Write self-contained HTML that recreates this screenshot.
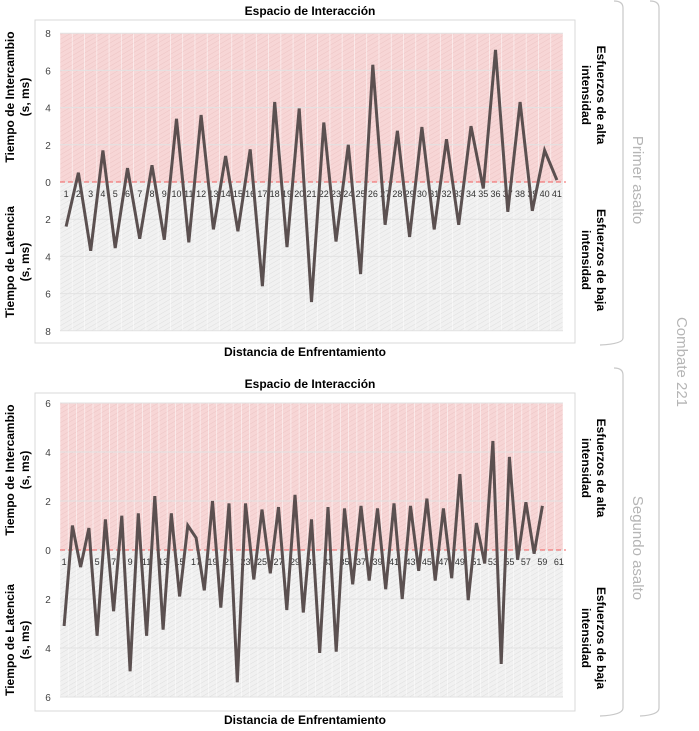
<!DOCTYPE html>
<html><head><meta charset="utf-8"><style>
body{margin:0;background:#fff;font-family:"Liberation Sans",sans-serif;}
svg{display:block}
</style></head><body>
<svg id="s" width="699" height="731" xmlns="http://www.w3.org/2000/svg">
<defs>
<pattern id="hp" width="4" height="4" patternUnits="userSpaceOnUse" patternTransform="rotate(60)"><rect width="4" height="4" fill="#f7d6d6"/><line x1="0" y1="0" x2="0" y2="4" stroke="#ecc4c4" stroke-width="1"/></pattern>
<pattern id="hg" width="4" height="4" patternUnits="userSpaceOnUse" patternTransform="rotate(60)"><rect width="4" height="4" fill="#f1f1f1"/><line x1="0" y1="0" x2="0" y2="4" stroke="#dedede" stroke-width="1"/></pattern>
</defs>
<g id="brackets" fill="none" stroke="#c8c8c8" stroke-width="1.2">
<path d="M614,1 Q623,1 623,8 L623,338 Q623,344 600,345"/>
<path d="M614,368 Q623,368 623,375 L623,708 Q623,715 600,716"/>
<path d="M650,1 Q659,1 659,8 L659,708 Q659,715 640,716"/>
</g>
<text x="633" y="180" transform="rotate(90 633 180)" text-anchor="middle" font-size="15" fill="#b5b5b5">Primer asalto</text>
<text x="633" y="548" transform="rotate(90 633 548)" text-anchor="middle" font-size="15" fill="#b5b5b5">Segundo asalto</text>
<text x="677" y="362" transform="rotate(90 677 362)" text-anchor="middle" font-size="15" fill="#b5b5b5">Combate 221</text>
</svg>
<script>
const top_categories = Array.from({length:41},(_,i)=>String(i+1));
const top_values = [-2.4,0.5,-3.7,1.7,-3.55,0.75,-3.05,0.9,-3.1,3.4,-3.25,3.6,-2.55,1.4,-2.65,1.75,-5.6,4.3,-3.5,3.95,-6.45,3.2,-3.2,2.0,-4.95,6.3,-2.3,2.75,-2.95,2.95,-2.55,2.3,-2.3,3.0,-0.35,7.1,-1.6,4.3,-1.55,1.7,0.1];
const bot_categories = Array.from({length:61},(_,i)=>String(i+1));
const bot_values = [-3.1,1.0,-0.7,0.9,-3.5,1.25,-2.5,1.4,-4.95,1.5,-3.5,2.2,-3.25,1.5,-1.9,1.0,0.5,-1.65,2.0,-2.35,1.9,-5.4,1.9,-1.2,1.65,-0.95,1.75,-2.45,2.25,-2.55,1.25,-4.2,1.75,-4.15,1.7,-1.4,1.8,-1.25,1.7,-1.6,1.9,-2.0,1.8,-0.85,2.1,-1.25,1.7,-1.15,3.1,-2.05,1.1,-0.55,4.45,-4.65,3.8,-0.4,1.95,-0.15,1.8];
const NS="http://www.w3.org/2000/svg";
const svg=document.getElementById('s');
function mk(tag,attrs,parent,text){const e=document.createElementNS(NS,tag);for(const k in attrs)e.setAttribute(k,attrs[k]);if(text!==undefined)e.textContent=text;(parent||svg).appendChild(e);return e;}
function chart(c){
  const g=mk('g',{});
  
  
  const box=mk('rect',{x:35,y:c.boxTop,width:540,height:c.boxH,fill:'#fff',stroke:'#d9d9d9'},g);
  
  
  const x0=60,x1=563,n=c.cats.length,bw=(x1-x0)/n;
  const yS=v=>c.zeroY-v*c.unit;
  const xS=i=>x0+bw*(i+0.5);
  const top=yS(c.max),bot=yS(-c.max);
  const hi=mk('rect',{x:x0,y:top,width:x1-x0,height:c.zeroY-top,fill:'url(#hp)'},g);
  
  
  const lo=mk('rect',{x:x0,y:c.zeroY,width:x1-x0,height:bot-c.zeroY,fill:'url(#hg)'},g);
  
  
  for(let i=0;i<=n;i++){const l=mk('line',{x1:x0+bw*i,x2:x0+bw*i,y1:top,y2:bot,stroke:'#fff','stroke-opacity':0.6,'stroke-width':0.8},g);
    
    }
  for(let v=-c.max;v<=c.max;v+=2){const y=yS(v);
    const l=mk('line',{x1:x0,x2:x1,y1:y,y2:y,stroke:'#e2e2e2','stroke-width':1},g);
    
    
    const t=mk('text',{x:48,y:y+4,'text-anchor':'middle','font-size':10,fill:'#444'},g,String(Math.abs(v)));
    
    }
  const zl=mk('line',{x1:x0,x2:566,y1:c.zeroY,y2:c.zeroY,stroke:'#f06060','stroke-width':1,'stroke-dasharray':'5,3'},g);
  
  
  c.cats.forEach((cat,i)=>{ if(i%c.step) return;
    const t=mk('text',{x:xS(i),y:c.zeroY+15,'text-anchor':'middle','font-size':9,fill:'#333'},g,cat);
    
    });
  const pts=c.vals.map((v,i)=>xS(i).toFixed(1)+','+yS(v).toFixed(1)).join(' ');
  const pl=mk('polyline',{points:pts,fill:'none',stroke:'#5b5050','stroke-width':3,'stroke-linejoin':'miter'},g);
  
  
  const tt=mk('text',{x:310,y:c.boxTop-5,'text-anchor':'middle','font-size':12,'font-weight':'bold'},g,'Espacio de Interacción');
  
  
  const xt=mk('text',{x:305,y:c.boxTop+c.boxH+13,'text-anchor':'middle','font-size':12,'font-weight':'bold'},g,'Distancia de Enfrentamiento');
  
  
  function rot(lines,x,y,ang,name){
    const t=mk('text',{transform:`translate(${x},${y}) rotate(${ang})`,'text-anchor':'middle','font-size':12,'font-weight':'bold'},g);
    
    
    lines.forEach((s,k)=>mk('tspan',{x:0,y:k*15},t,s));}
  rot(['Tiempo de Intercambio','(s, ms)'],14,c.yt1,-90,'y-axis-title-exchange');
  rot(['Tiempo de Latencia','(s, ms)'],14,c.yt2,-90,'y-axis-title-latency');
  rot(['Esfuerzos de alta','intensidad'],597,c.yt1-2,90,'high-intensity-label');
  rot(['Esfuerzos de baja','intensidad'],597,c.yt2-2,90,'low-intensity-label');
}
chart({id:'chart-primer-asalto',cats:top_categories,vals:top_values,boxTop:20,boxH:323,zeroY:182,unit:18.6,max:8,step:1,yt1:97,yt2:262});
chart({id:'chart-segundo-asalto',cats:bot_categories,vals:bot_values,boxTop:393,boxH:318,zeroY:550,unit:24.5,max:6,step:2,yt1:470,yt2:640});
</script>
</body></html>
